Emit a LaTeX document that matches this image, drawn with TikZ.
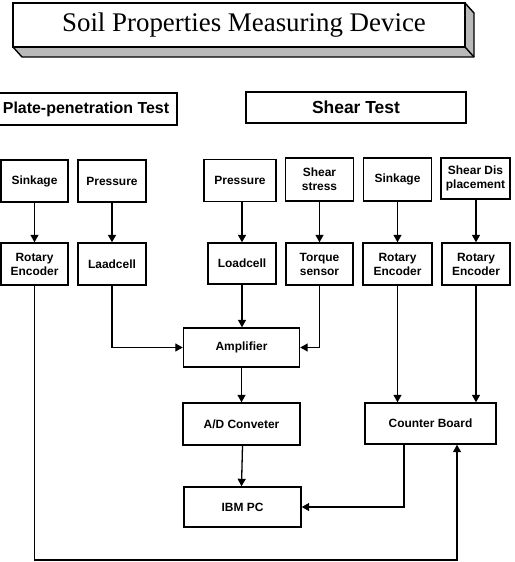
\documentclass[tikz,border=0pt]{standalone}
\usepackage{fontspec}
\setmainfont{Liberation Serif}
\newfontfamily\arialfont{Liberation Sans}
\usetikzlibrary{arrows.meta}
\tikzset{
  box/.style={draw, line width=1.4bp, inner sep=0pt, align=center,
    font=\arialfont\bfseries\fontsize{12}{14}\selectfont},
  headbox/.style={box, font=\arialfont\bfseries\fontsize{17.5}{20}\selectfont},
  conn/.style={line width=1.3bp, -{Triangle[width=8bp,length=7.5bp]}},
  plain/.style={line width=1.4bp}
}
\begin{document}
\begin{tikzpicture}[x=1bp,y=-1bp]
\clip (0,0) rectangle (515,562);
\useasboundingbox (0,0) rectangle (515,562);
% title 3D box
\fill[gray!55] (13,47) -- (465,47) -- (474,57) -- (22,57) -- cycle;
\fill[gray!55] (465,3) -- (474,13) -- (474,57) -- (465,47) -- cycle;
\draw[plain, line join=round] (13,47) -- (22,57) -- (474,57) -- (474,13) -- (465,3);
\draw[plain] (465,47) -- (474,57);
\node[draw, line width=1.4bp, minimum width=452bp, minimum height=44bp, inner sep=0pt,
  font=\fontsize{27}{30}\selectfont] (title) at (239,25) {\hspace*{10bp}Soil Properties Measuring Device};
% test headers
\node[headbox, minimum width=182bp, minimum height=32bp,
  font=\arialfont\bfseries\fontsize{16}{19}\selectfont] (plate) at (86,109) {Plate-penetration Test};
\node[headbox, minimum width=220bp, minimum height=31bp] (shear) at (356,107.5) {Shear Test};
% sensors row
\node[box, minimum width=67bp, minimum height=42bp] (sink1) at (34.5,181) {Sinkage};
\node[box, minimum width=68bp, minimum height=42bp] (press1) at (112,181) {Pressure};
\node[box, minimum width=72bp, minimum height=42bp] (press2) at (240,180.5) {Pressure};
\node[box, minimum width=68bp, minimum height=43bp] (sstress) at (319.5,179.5) {Shear\\stress};
\node[box, minimum width=68bp, minimum height=43bp] (sink2) at (397.5,179.5) {Sinkage};
\node[box, minimum width=69bp, minimum height=41bp] (sdp) at (475.5,178.5) {Shear Dis\\placement};
% transducer row
\node[box, minimum width=67bp, minimum height=42bp] (rot1) at (34.5,264) {Rotary\\Encoder};
\node[box, minimum width=68bp, minimum height=42bp] (laad) at (112,264) {Laadcell};
\node[box, minimum width=68bp, minimum height=41bp] (load) at (242,263.5) {Loadcell};
\node[box, minimum width=67bp, minimum height=42bp] (torque) at (319.5,264) {Torque\\sensor};
\node[box, minimum width=69bp, minimum height=42bp] (rot2) at (397.5,264) {Rotary\\Encoder};
\node[box, minimum width=68bp, minimum height=42bp] (rot3) at (476,264) {Rotary\\Encoder};
% processing
\node[box, minimum width=116bp, minimum height=39bp] (amp) at (241.5,347.5) {Amplifier};
\node[box, minimum width=117bp, minimum height=42bp] (ad) at (241.5,424) {A/D Conveter};
\node[box, minimum width=117bp, minimum height=40bp] (pc) at (242.5,507) {IBM PC};
\node[box, minimum width=131bp, minimum height=41bp] (cb) at (430.5,423.5) {Counter Board};
% connectors
\draw[conn] (sink1.south) -- (rot1.north);
\draw[conn] (press1.south) -- (laad.north);
\draw[conn] (press2.south -| load.north) -- (load.north);
\draw[conn] (sstress.south) -- (torque.north);
\draw[conn] (sink2.south) -- (rot2.north);
\draw[conn] (sdp.south -| rot3.north) -- (rot3.north);
\draw[conn] (load.south) -- (load.south |- amp.north);
\draw[conn] (laad.south) |- (amp.west);
\draw[conn] (torque.south) |- (amp.east);
\draw[conn] (rot2.south) -- (rot2.south |- cb.north);
\draw[conn] (rot3.south) -- (rot3.south |- cb.north);
\draw[conn] (amp.south -| ad.north) -- (ad.north);
\draw[conn] (ad.south -| pc.north) -- (pc.north -| ad.south);
\coordinate (cbout) at ([xshift=-26.5bp]cb.south);
\draw[conn] (cbout) |- (pc.east);
\coordinate (loopL) at (rot1.south |- 0,560);
\coordinate (cbin) at ([xshift=26.5bp]cb.south);
\draw[conn] (rot1.south) -- (loopL) -| (cbin);
\end{tikzpicture}
\end{document}
